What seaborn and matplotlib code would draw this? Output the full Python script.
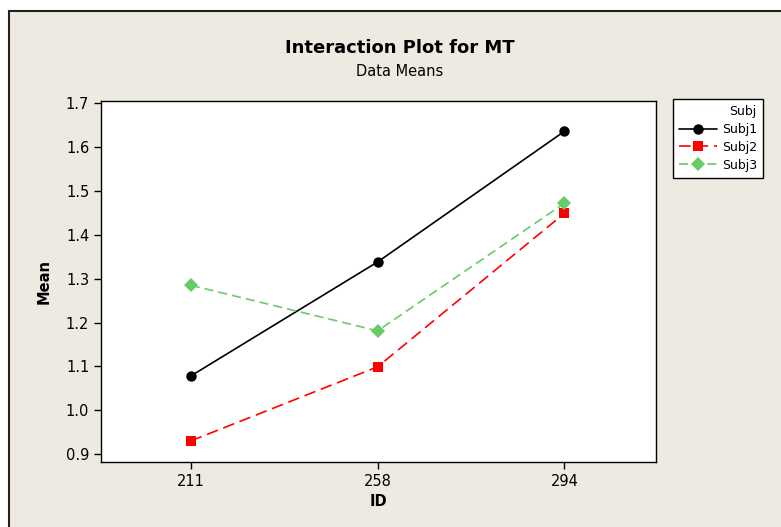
import pandas as pd
import matplotlib.pyplot as plt
import seaborn as sns
from matplotlib.patches import Rectangle
from matplotlib.lines import Line2D

ids = ['211', '258', '294']
subjects = ['Subj1', 'Subj2', 'Subj3']
subj1 = [1.078, 1.338, 1.636]
subj2 = [0.930, 1.099, 1.449]
subj3 = [1.285, 1.181, 1.472]
y_ticks = [0.9, 1.0, 1.1, 1.2, 1.3, 1.4, 1.5, 1.6, 1.7]

colors = ['black', '#FF0000', '#66CC66']
markers = ['o', 's', 'D']
dashes = ['-', (0, (7, 3.5)), (0, (5.5, 3))]
msizes = [7.5, 7, 7]

df = pd.DataFrame({
    'ID': ids * 3,
    'Subj': [s for s in subjects for _ in ids],
    'Mean': subj1 + subj2 + subj3,
})

sns.set_style('white')
plt.rcParams['font.family'] = ['DejaVu Sans']
plt.rcParams['text.color'] = 'black'
plt.rcParams['axes.labelcolor'] = 'black'
bg = '#EEEAE1'

fig = plt.figure(figsize=(7.81, 5.27), dpi=100)
fig.patch.set_facecolor('white')
fig.patches.append(Rectangle((9 / 781, -0.1), 1.2, 1.1 - 11 / 527, transform=fig.transFigure,
                             facecolor=bg, edgecolor='#222222', lw=1.5, zorder=-1))

ax = fig.add_axes([101 / 781, 1 - 462 / 527, (656 - 101) / 781, (462 - 101) / 527])
ax.set_facecolor('white')

for i, s in enumerate(subjects):
    d = df[df['Subj'] == s]
    sns.lineplot(data=d, x='ID', y='Mean', ax=ax, color=colors[i], lw=1.2,
                 linestyle=dashes[i], marker=markers[i], markersize=msizes[i],
                 markeredgewidth=0, legend=False)

ax.set_xlim(-0.48, 2.49)
ax.set_ylim(0.882, 1.705)
ax.set_yticks(y_ticks)
ax.set_yticklabels([f'{v:.1f}' for v in y_ticks])
ax.tick_params(axis='both', direction='out', length=5, width=1, labelsize=10.5, colors='black',
               bottom=True, left=True, top=False, right=False)
for sp in ax.spines.values():
    sp.set_color('black')
    sp.set_linewidth(1)
ax.set_xlabel('ID', fontsize=10.5, fontweight='bold', labelpad=4)
ax.set_ylabel('Mean', fontsize=10.5, fontweight='bold', labelpad=10)

fig.text(400 / 781, 1 - 48 / 527, 'Interaction Plot for MT', ha='center', va='center',
         fontsize=13, fontweight='bold')
fig.text(400 / 781, 1 - 72 / 527, 'Data Means', ha='center', va='center', fontsize=10.5)

handles = [Line2D([], [], color=colors[i], linestyle=dashes[i], marker=markers[i],
                  markersize=msizes[i], markeredgewidth=0, lw=1.2) for i in range(3)]
leg = fig.legend(handles, subjects, title='Subj', loc='upper left',
                 bbox_to_anchor=(673 / 781, 1 - 99 / 527), frameon=True, fancybox=False,
                 fontsize=9, title_fontsize=9, alignment='right', handlelength=3.0,
                 borderpad=0.5, labelspacing=0.38, borderaxespad=0, handletextpad=0.4)
leg.get_frame().set_edgecolor('black')
leg.get_frame().set_linewidth(1)
leg.get_frame().set_facecolor('white')
leg.get_frame().set_alpha(1)

fig.savefig('out.png', dpi=100, facecolor=fig.get_facecolor())
